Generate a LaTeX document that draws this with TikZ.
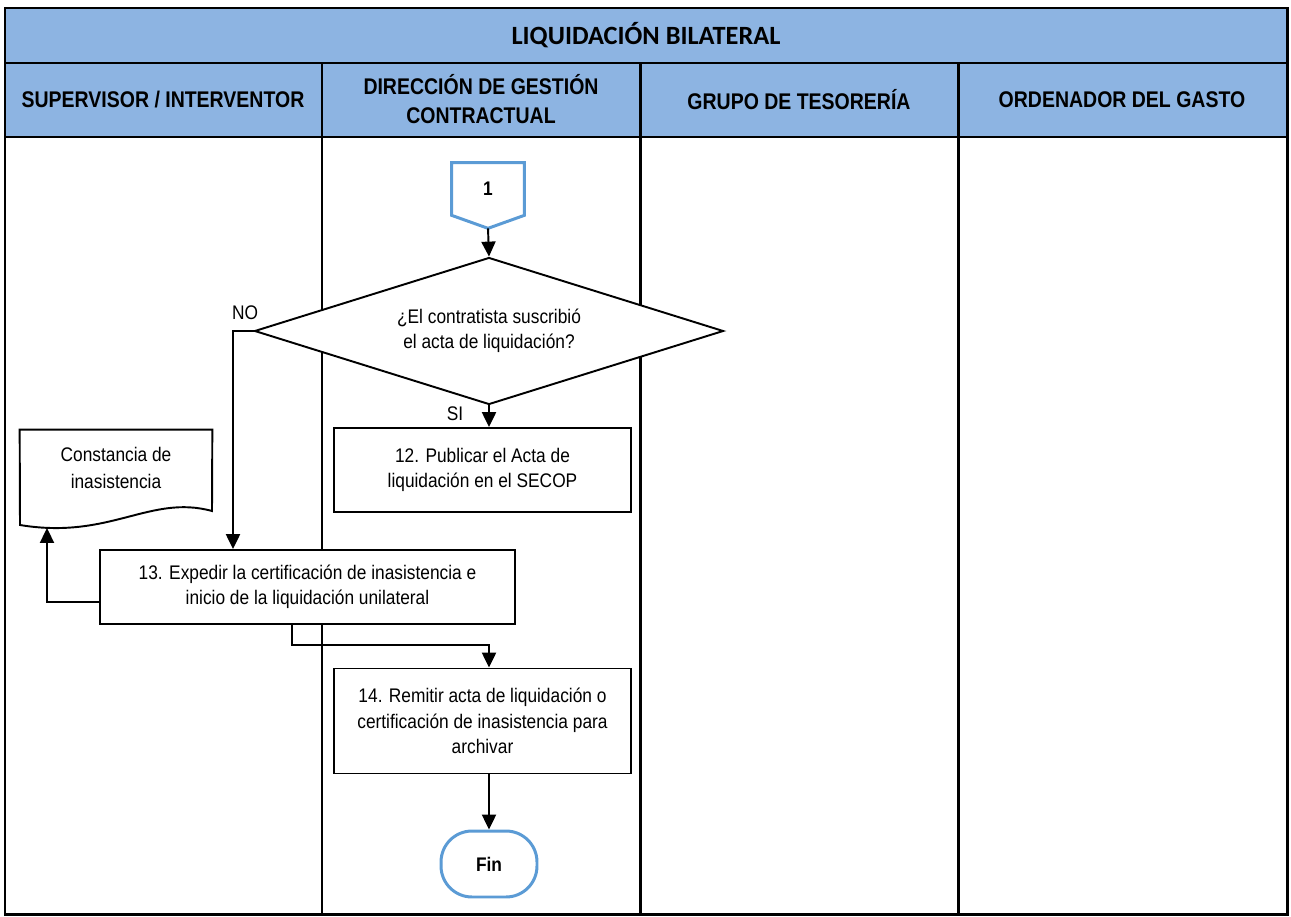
\documentclass[tikz,border=0pt]{standalone}
\usepackage{fontspec}
\setmainfont[FakeStretch=0.88]{Liberation Sans}
\newfontfamily\headfont[FakeStretch=0.86]{Liberation Sans}
\newfontfamily\titlefont{Carlito}
\usepackage{xcolor}
\usepackage{tikz}
\usetikzlibrary{shapes,arrows.meta,positioning}

\definecolor{headblue}{HTML}{8DB4E2}
\definecolor{lineblue}{HTML}{5B9BD5}

\tikzset{
  lane/.style={line width=1.7pt},
  headtext/.style={font=\headfont\bfseries\fontsize{12.9}{17}\selectfont, align=center},
  procbox/.style={draw, line width=1.1pt, fill=white, align=center,
    font=\fontsize{11.2}{14.5}\selectfont, inner sep=2pt},
  decision/.style={diamond, aspect=3.2, draw, line width=1.1pt, fill=white, align=center,
    font=\fontsize{11.2}{14.5}\selectfont, inner sep=0pt},
  flow/.style={-{Triangle[length=8.5pt,width=8pt]}, line width=1.1pt},
  small/.style={font=\fontsize{11.2}{12}\selectfont}
}

\begin{document}
\begin{tikzpicture}[x=0.02cm, y=-0.02cm]
        \useasboundingbox (0,0) rectangle (1291,916);

        % Header
        \fill[headblue] (5,8) rectangle (1287,137);
        \node[font=\titlefont\bfseries\fontsize{15}{18}\selectfont] (title) at (646,35) {LIQUIDACIÓN BILATERAL};
        \node[headtext] (h1) at (163,100) {SUPERVISOR / INTERVENTOR};
        \node[headtext] (h2) at (481,99) {DIRECCIÓN DE GESTIÓN\\CONTRACTUAL};
        \node[headtext] (h3) at (799,100) {GRUPO DE TESORERÍA};
        \node[headtext] (h4) at (1122,100) {ORDENADOR DEL GASTO};

        % Lanes
        \draw[lane] (5,63) -- (1287,63);
        \draw[lane] (5,137) -- (1287,137);
        \foreach \x in {322,640,958} {
            \draw[lane] (\x,63) -- (\x,914);
        }
        \draw[lane] (5,8) rectangle (1287,914);

        % Off-page connector
        \node[minimum width=1.44cm, minimum height=1.04cm, font=\bfseries\fontsize{11.2}{12}\selectfont] (c1) at (488,189) {1};
        \coordinate (c1tip) at ([yshift=-0.26cm]c1.south);
        \draw[lineblue, line width=1.7pt] (c1.north west) -- (c1.north east) -- (c1.south east)
            -- (c1tip) -- (c1.south west) -- cycle;

        % Flow
        \node[decision, minimum width=9.38cm, minimum height=2.94cm] (q) at (489,331) {¿El contratista suscribió\\el acta de liquidación?};
        \node[procbox, minimum width=5.94cm, minimum height=1.68cm] (b12) at (482.5,470) {12. Publicar el Acta de\\liquidación en el SECOP};
        \node[procbox, minimum width=8.3cm, minimum height=1.48cm] (b13) at (307.5,587) {13. Expedir la certificación de inasistencia e\\inicio de la liquidación unilateral};
        \node[procbox, minimum width=5.94cm, minimum height=2.1cm] (b14) at (482.5,721) {14. Remitir acta de liquidación o\\certificación de inasistencia para\\archivar};
        \node[draw=lineblue, line width=1.7pt, rounded corners=0.62cm, minimum width=1.92cm, minimum height=1.32cm,
              fill=white, font=\bfseries\fontsize{11.2}{12}\selectfont] (fin) at (489,864) {Fin};

        % Document
        \node[align=center, minimum width=3.84cm, minimum height=1.52cm, font=\fontsize{11.2}{15}\selectfont] (doc) at (116,468) {Constancia de\\inasistencia};
        \draw[line width=1.1pt] (doc.north west) -- (doc.north east) -- (212,511)
            .. controls (150,494) and (110,540) .. (20,525) -- cycle;
        \coordinate (docin) at (47,528);

        % Connectors
        \draw[flow] (c1tip) -- (q.north);
        \coordinate (nobend) at (233,331);
        \draw[flow] (q.west) -- (nobend) -- (nobend |- b13.north);
        \node[small] (no) at (245,313) {NO};
        \draw[flow] (q.south) -- (q.south |- b12.north);
        \node[small] (si) at (455,414) {SI};
        \draw[flow] ([yshift=-0.3cm]b13.west) -| (docin);
        \coordinate (joint) at (292,645);
        \draw[flow] (b13.south -| joint) -- (joint) -| (b14.north -| fin);
        \draw[flow] (b14.south -| fin) -- (fin.north);
    \end{tikzpicture}
\end{document}
